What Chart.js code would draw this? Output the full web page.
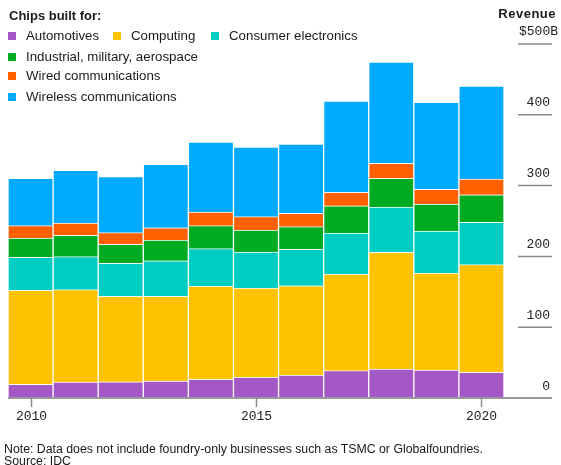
<!DOCTYPE html>
<html>
<head>
<meta charset="utf-8">
<script src="https://cdn.jsdelivr.net/npm/chart.js@4/dist/chart.umd.min.js"></script>
<style>
  body { margin: 0; background: #fff; }
  #wrap { position: relative; width: 561px; height: 465px; font-family: "Liberation Sans", Arial, sans-serif; color: #1a1a1a; }
  #grafico { position: absolute; left: 0; top: 0; }
  .titulo { position: absolute; left: 9px; top: 8px; font-size: 13px; font-weight: bold; line-height: 16px; }
  .receita { position: absolute; right: 5px; top: 6px; font-size: 13px; font-weight: bold; line-height: 16px; letter-spacing: 0.5px; }
  .linha { position: absolute; left: 8px; font-size: 13.3px; line-height: 16px; white-space: nowrap; }
  .item { position: absolute; top: 0; white-space: nowrap; }
  .item i { position: absolute; top: 4px; width: 8px; height: 8px; }
  .nota { position: absolute; left: 4px; top: 443px; font-size: 12.3px; line-height: 12px; }
</style>
</head>
<body>
<div id="wrap">
  <canvas id="grafico" width="561" height="465"></canvas>
  <div class="titulo">Chips built for:</div>
  <div class="receita">Revenue</div>
  <div id="legenda"></div>
  <div class="nota">Note: Data does not include foundry-only businesses such as TSMC or Globalfoundries.<br>Source: IDC</div>
</div>
<script>
// anos e valores (bilhoes de dolares)
const anos = ['2010', '2011', '2012', '2013', '2014', '2015', '2016', '2017', '2018', '2019', '2020'];
const automotives = [19.3, 22.6, 23.0, 24.0, 26.4, 29.2, 32.5, 38.6, 41.0, 39.5, 36.3];
const computing = [132.8, 130.4, 120.6, 119.6, 131.8, 126.2, 126.1, 136.5, 164.8, 137.1, 152.0];
const consumer = [46.6, 46.6, 46.7, 50.3, 52.7, 50.8, 51.4, 58.0, 64.0, 59.3, 59.9];
const industrial = [27.3, 30.2, 26.8, 29.3, 32.5, 31.1, 32.0, 38.5, 40.5, 38.1, 38.9];
const wired = [17.4, 17.4, 16.4, 17.3, 19.3, 18.8, 18.8, 18.9, 21.2, 20.8, 22.2];
const wireless = [66.9, 74.4, 79.1, 89.6, 98.9, 98.4, 98.0, 129.0, 143.1, 122.8, 131.4];

const yTicks = [0, 100, 200, 300, 400, 500];
const xTickLabels = ['2010', '2015', '2020'];

const series = [
  { label: 'Automotives', data: automotives, color: '#a458c6' },
  { label: 'Computing', data: computing, color: '#ffc200' },
  { label: 'Consumer electronics', data: consumer, color: '#00cdc1' },
  { label: 'Industrial, military, aerospace', data: industrial, color: '#00ab22' },
  { label: 'Wired communications', data: wired, color: '#ff6000' },
  { label: 'Wireless communications', data: wireless, color: '#00aaff' }
];

// legenda em html (posicoes das linhas como na imagem)
const legendaLayout = [
  { top: 28, itens: [[0, 0], [1, 105], [2, 203]] },
  { top: 49, itens: [[3, 0]] },
  { top: 68, itens: [[4, 0]] },
  { top: 89, itens: [[5, 0]] }
];
const legenda = document.getElementById('legenda');
legendaLayout.forEach(l => {
  const linha = document.createElement('div');
  linha.className = 'linha';
  linha.style.top = l.top + 'px';
  l.itens.forEach(([idx, x]) => {
    const s = series[idx];
    const it = document.createElement('div');
    it.className = 'item';
    it.style.left = x + 'px';
    it.innerHTML = `<i style="left:0;background:${s.color}"></i><span style="margin-left:18px">${s.label}</span>`;
    linha.appendChild(it);
  });
  legenda.appendChild(linha);
});

// eixos desenhados a mao, usando as escalas do chart
const eixos = {
  id: 'eixos',
  afterDraw(chart) {
    const ctx = chart.ctx;
    const x = chart.scales.x;
    const y = chart.scales.y;
    const y0 = y.getPixelForValue(0);
    ctx.save();
    ctx.strokeStyle = '#999';
    ctx.lineWidth = 2;
    ctx.beginPath();
    ctx.moveTo(8, y0);
    ctx.lineTo(552, y0);
    ctx.stroke();

    ctx.font = '13px "Liberation Mono", "DejaVu Sans Mono", monospace';
    ctx.fillStyle = '#222';
    ctx.lineWidth = 1.5;
    ctx.strokeStyle = '#8a8a8a';

    // ticks do eixo x
    ctx.textAlign = 'center';
    ctx.textBaseline = 'middle';
    xTickLabels.forEach(lbl => {
      const px = Math.round(x.getPixelForValue(anos.indexOf(lbl))) + 0.5;
      ctx.beginPath();
      ctx.moveTo(px, y0);
      ctx.lineTo(px, y0 + 9);
      ctx.stroke();
      ctx.fillText(lbl, px, y0 + 19);
    });

    // ticks do eixo y (lado direito)
    ctx.textAlign = 'right';
    yTicks.forEach(v => {
      const py = y.getPixelForValue(v);
      if (v > 0) {
        ctx.beginPath();
        ctx.moveTo(518, py);
        ctx.lineTo(552, py);
        ctx.stroke();
      }
      const txt = v === 500 ? '$500B' : String(v);
      const right = v === 500 ? 558 : 550;
      ctx.fillText(txt, right, v === 0 ? py - 11 : py - 12);
    });
    ctx.restore();
  }
};

new Chart(document.getElementById('grafico').getContext('2d'), {
  type: 'bar',
  data: {
    labels: anos,
    datasets: series.map(s => ({
      label: s.label,
      data: s.data,
      backgroundColor: s.color,
      borderColor: 'rgba(255,255,255,0.55)',
      borderWidth: 1,
      barPercentage: 1,
      categoryPercentage: 1
    }))
  },
  options: {
    responsive: false,
    animation: false,
    devicePixelRatio: 1,
    layout: { padding: { left: 8, right: 57, top: 44, bottom: 67 } },
    plugins: { legend: { display: false }, tooltip: { enabled: false } },
    scales: {
      x: { stacked: true, display: false },
      y: { stacked: true, display: false, min: 0, max: 500 }
    }
  },
  plugins: [eixos]
});
</script>
</body>
</html>
